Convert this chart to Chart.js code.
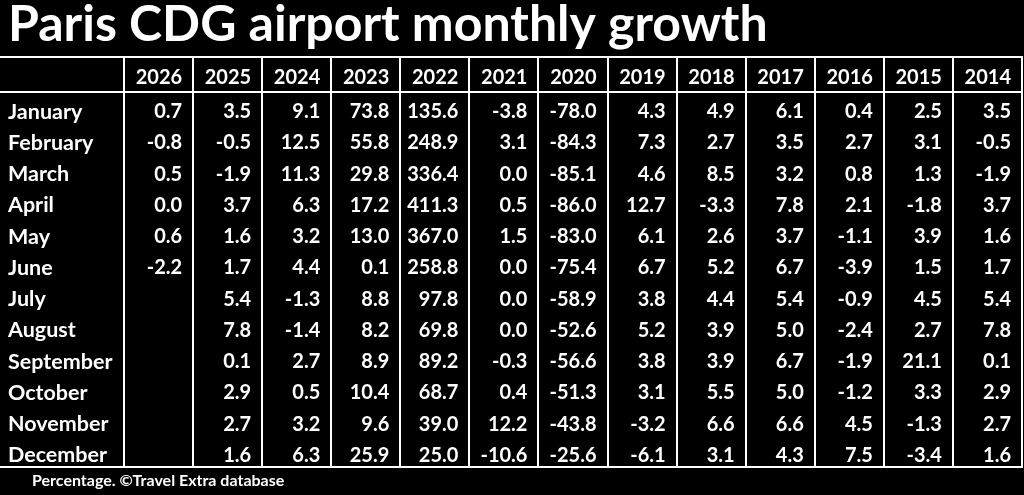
<!DOCTYPE html>
<html>
<head>
<meta charset="utf-8">
<script src="https://cdn.jsdelivr.net/npm/chart.js@4.4.1/dist/chart.umd.min.js"></script>
<style>
  html, body { margin: 0; padding: 0; background: #000; }
  #wrap { width: 1024px; height: 495px; position: relative; }
</style>
</head>
<body>
<div id="wrap"><canvas id="c"></canvas></div>
<script>
const titleText = 'Paris CDG airport monthly growth';
const footerText = 'Percentage. \u00A9Travel Extra database';

const years = ['2026','2025','2024','2023','2022','2021','2020','2019','2018','2017','2016','2015','2014'];
const months = ['January','February','March','April','May','June','July','August','September','October','November','December'];

const v2026 = [0.7, -0.8, 0.5, 0.0, 0.6, -2.2, null, null, null, null, null, null];
const v2025 = [3.5, -0.5, -1.9, 3.7, 1.6, 1.7, 5.4, 7.8, 0.1, 2.9, 2.7, 1.6];
const v2024 = [9.1, 12.5, 11.3, 6.3, 3.2, 4.4, -1.3, -1.4, 2.7, 0.5, 3.2, 6.3];
const v2023 = [73.8, 55.8, 29.8, 17.2, 13.0, 0.1, 8.8, 8.2, 8.9, 10.4, 9.6, 25.9];
const v2022 = [135.6, 248.9, 336.4, 411.3, 367.0, 258.8, 97.8, 69.8, 89.2, 68.7, 39.0, 25.0];
const v2021 = [-3.8, 3.1, 0.0, 0.5, 1.5, 0.0, 0.0, 0.0, -0.3, 0.4, 12.2, -10.6];
const v2020 = [-78.0, -84.3, -85.1, -86.0, -83.0, -75.4, -58.9, -52.6, -56.6, -51.3, -43.8, -25.6];
const v2019 = [4.3, 7.3, 4.6, 12.7, 6.1, 6.7, 3.8, 5.2, 3.8, 3.1, -3.2, -6.1];
const v2018 = [4.9, 2.7, 8.5, -3.3, 2.6, 5.2, 4.4, 3.9, 3.9, 5.5, 6.6, 3.1];
const v2017 = [6.1, 3.5, 3.2, 7.8, 3.7, 6.7, 5.4, 5.0, 6.7, 5.0, 6.6, 4.3];
const v2016 = [0.4, 2.7, 0.8, 2.1, -1.1, -3.9, -0.9, -2.4, -1.9, -1.2, 4.5, 7.5];
const v2015 = [2.5, 3.1, 1.3, -1.8, 3.9, 1.5, 4.5, 2.7, 21.1, 3.3, -1.3, -3.4];
const v2014 = [3.5, -0.5, -1.9, 3.7, 1.6, 1.7, 5.4, 7.8, 0.1, 2.9, 2.7, 1.6];

const series = [v2026, v2025, v2024, v2023, v2022, v2021, v2020, v2019, v2018, v2017, v2016, v2015, v2014];

const FONT = 'Lato, "Open Sans", sans-serif';
const CELL_FONT = 'bold 20px ' + FONT;
const LINE = '#ffffff';

const datasets = years.map((yr, i) => ({
  label: yr,
  data: series[i]
    .map((v, j) => (v === null ? null : { x: yr, y: months[j], v: v }))
    .filter(p => p !== null),
  pointRadius: 0,
  pointHoverRadius: 0,
  showLine: false
}));

const tablePlugin = {
  id: 'tablePlugin',
  beforeDraw(chart) {
    const ctx = chart.ctx;
    ctx.save();
    ctx.fillStyle = '#000';
    ctx.fillRect(0, 0, chart.width, chart.height);
    ctx.restore();
  },
  afterDraw(chart) {
    const ctx = chart.ctx;
    const xs = chart.scales.x;
    const ca = chart.chartArea;
    ctx.save();
    // horizontal rules
    ctx.strokeStyle = LINE;
    ctx.lineWidth = 2;
    [xs.top, ca.top, ca.bottom].forEach(y => {
      ctx.beginPath();
      ctx.moveTo(0, Math.round(y));
      ctx.lineTo(ca.right + 1, Math.round(y));
      ctx.stroke();
    });
    // header labels
    ctx.fillStyle = '#fff';
    ctx.font = CELL_FONT;
    ctx.textAlign = 'right';
    ctx.textBaseline = 'middle';
    const headY = (xs.top + ca.top) / 2 + 3;
    years.forEach((yr, i) => {
      const right = xs.getPixelForValue(i + 0.5);
      ctx.fillText(yr, right - 11, headY);
    });
    // cell values
    chart.data.datasets.forEach((ds, di) => {
      const meta = chart.getDatasetMeta(di);
      const right = xs.getPixelForValue(di + 0.5);
      meta.data.forEach((el, k) => {
        const raw = ds.data[k];
        ctx.fillText(raw.v.toFixed(1), right - 11, el.y + 4);
      });
    });
    // footer
    ctx.textAlign = 'left';
    ctx.font = 'bold 16px ' + FONT;
    ctx.fillText(footerText, 32, 481);
    ctx.restore();
  }
};

new Chart(document.getElementById('c'), {
  type: 'scatter',
  data: { datasets },
  options: {
    responsive: true,
    maintainAspectRatio: false,
    animation: false,
    events: [],
    layout: { padding: { left: 8, right: 2, top: 0, bottom: 28 } },
    plugins: {
      legend: { display: false },
      tooltip: { enabled: false },
      title: {
        display: true,
        text: titleText,
        align: 'start',
        color: '#fff',
        font: { family: FONT, weight: 'bold', size: 50, lineHeight: 1 },
        padding: { top: 0, bottom: 7 }
      }
    },
    scales: {
      x: {
        type: 'category',
        labels: years,
        position: 'top',
        offset: true,
        grid: { offset: true, color: LINE, lineWidth: 2, tickLength: 35, tickColor: LINE },
        border: { display: false },
        ticks: { display: false },
        afterFit(s) { s.height = 35; }
      },
      y: {
        type: 'category',
        labels: months,
        position: 'left',
        offset: true,
        grid: { display: false },
        border: { display: false },
        ticks: {
          color: '#fff',
          crossAlign: 'far',
          labelOffset: 4,
          font: { family: FONT, weight: 'bold', size: 21.5 }
        },
        afterFit(s) { s.width = 116; }
      }
    }
  },
  plugins: [tablePlugin]
});
</script>
</body>
</html>
